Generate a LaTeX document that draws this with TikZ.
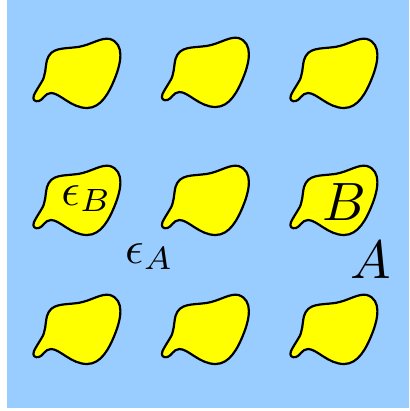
\documentclass[tikz,border=0pt]{standalone}
\definecolor{bgblue}{RGB}{153,204,255}
\definecolor{blobyellow}{RGB}{255,255,0}
\tikzset{
  blobshape/.style={draw=black, fill=blobyellow, line width=2.2pt, line join=round},
  biglabel/.style={anchor=base, inner sep=0pt, scale=5.4},
  sublabel/.style={anchor=base, inner sep=0pt, scale=4.6},
}
\newcommand{\myblob}[3]{%
  \begin{scope}[shift={(#1,#2)}]
  \draw[blobshape] (1,57) .. controls (-1,62) and (2,64) .. (6,63)
    .. controls (10,62) and (12,55) .. (18,55)
    .. controls (27,55) and (38,70) .. (54,70)
    .. controls (68,70) and (76,55) .. (82,40)
    .. controls (88,25) and (92,6) .. (77,1)
    .. controls (68,-1) and (58,7) .. (45,9)
    .. controls (30,11) and (18,9) .. (14,22)
    .. controls (12,30) and (13,38) .. (8,45)
    .. controls (5,50) and (3,53) .. (1,57) -- cycle;
  \coordinate (#3) at (44,35);
  \end{scope}
}
\begin{document}
\begin{tikzpicture}[x=1pt,y=-1pt]
  \useasboundingbox (0,0) rectangle (409,411);
  \fill[bgblue] (7,0) rectangle (409,408);
  \myblob{33}{38}{b11}
  \myblob{161.5}{37}{b12}
  \myblob{290}{38}{b13}
  \myblob{33}{165}{b21}
  \myblob{161.5}{165}{b22}
  \myblob{290}{165}{b23}
  \myblob{33}{294}{b31}
  \myblob{161.5}{294}{b32}
  \myblob{290}{294}{b33}
  \node[sublabel] (epsB) at (86.5,205) {$\epsilon_B$};
  \node[sublabel] (epsA) at (149.5,263) {$\epsilon_A$};
  \node[biglabel] (labB) at (344.5,220) {$B$};
  \node[biglabel] (labA) at (371,278) {$A$};
\end{tikzpicture}
\end{document}
